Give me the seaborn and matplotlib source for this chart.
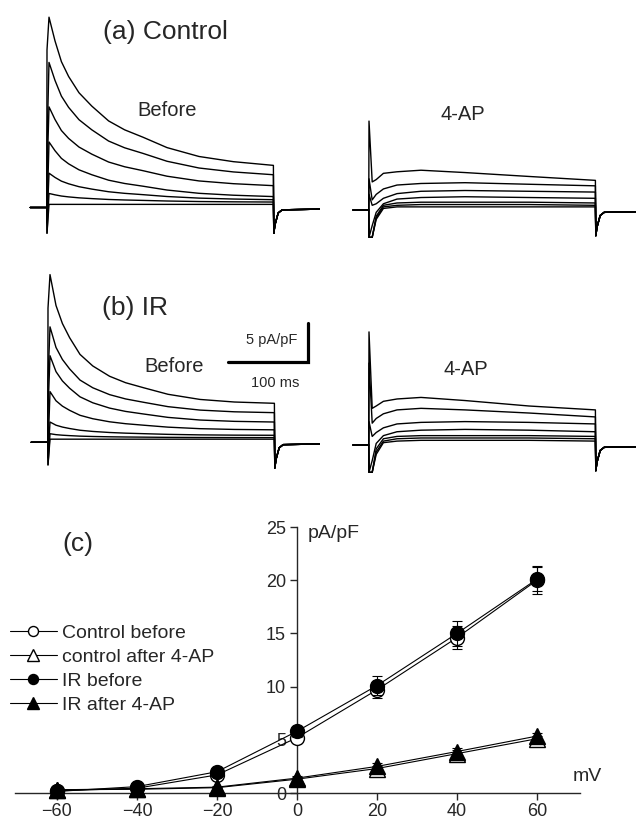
import matplotlib
matplotlib.use('Agg')
import matplotlib.pyplot as plt
import seaborn as sns

# ---------------- (c) current-voltage data, pA/pF ----------------
voltages = [-60, -40, -20, 0, 20, 40, 60]
control_before = [0.2, 0.45, 1.7, 5.2, 9.7, 14.6, 20.0]
control_before_err = [0.1, 0.2, 0.3, 0.5, 0.8, 1.1, 1.3]
control_after = [0.3, 0.35, 0.5, 1.3, 2.3, 3.7, 5.1]
control_after_err = [0.1, 0.1, 0.1, 0.2, 0.2, 0.3, 0.3]
ir_before = [0.15, 0.6, 2.0, 5.8, 10.1, 15.0, 20.1]
ir_before_err = [0.1, 0.2, 0.4, 0.5, 0.9, 1.2, 1.1]
ir_after = [0.3, 0.4, 0.55, 1.4, 2.5, 3.9, 5.35]
ir_after_err = [0.1, 0.1, 0.1, 0.2, 0.3, 0.3, 0.3]

# ---------------- current traces (ms, pA/pF) ----------------
t_hold = [-21, -0.3, 0]
t_decay = [2.5, 10, 18, 27, 40, 56, 77, 97, 120, 150, 190, 233, 283]
decay_control = [1, 0.84, 0.70, 0.60, 0.49, 0.40, 0.30, 0.24, 0.19, 0.12, 0.06, 0.025, 0]
decay_ir = [1, 0.76, 0.62, 0.51, 0.38, 0.29, 0.21, 0.16, 0.12, 0.07, 0.03, 0.01, 0]
t_tail = [283.5, 285, 289, 294, 345]
tail_current = [-3.3, -2.2, -0.7, -0.3, -0.2]

# before 4-AP: spike, peak and end-of-pulse amplitude of each sweep
control_spike = [20.2, 8, 4, -1, -2, -3.3, -3.3]
control_peak = [24.4, 18.6, 12.9, 8.4, 4.4, 1.8, 0.4]
control_late = [5.4, 4.2, 2.8, 1.4, 1.0, 0.7, 0.4]
ir_spike = [17.2, 8, 4, -1, -2, -2.9, -2.9]
ir_peak = [21.5, 14.8, 11.1, 6.5, 2.6, 1.1, 0.4]
ir_late = [5.0, 3.8, 2.6, 1.6, 0.9, 0.6, 0.4]

# after 4-AP: sweeps read at these times
t_4ap = [4, 9, 18, 35, 65, 120, 200, 283]
control_4ap_spike = [11.4, 4, 2, -3.5, -3.5, -3.5, -3.5]
control_4ap = [
    [3.6, 3.9, 4.7, 4.9, 5.1, 4.8, 4.3, 3.8],
    [1.3, 2.0, 2.7, 3.2, 3.4, 3.5, 3.3, 3.1],
    [0.6, 0.8, 1.5, 2.1, 2.4, 2.5, 2.4, 2.3],
    [-2.0, -0.3, 0.8, 1.4, 1.6, 1.7, 1.6, 1.5],
    [-3.5, -0.8, 0.6, 0.9, 1.0, 1.0, 1.0, 0.9],
    [-3.5, -1.0, 0.4, 0.6, 0.7, 0.7, 0.7, 0.6],
    [-3.5, -1.2, 0.2, 0.4, 0.4, 0.4, 0.4, 0.4],
]
ir_4ap_spike = [14.5, 10.5, 3, -3.5, -3.5, -3.5, -3.5]
ir_4ap = [
    [4.7, 5.0, 5.6, 5.9, 6.1, 5.7, 5.0, 4.5],
    [2.8, 3.4, 4.0, 4.5, 4.7, 4.5, 4.1, 3.6],
    [1.1, 1.6, 2.2, 2.7, 2.9, 3.0, 2.9, 2.7],
    [-2.0, 0.2, 1.2, 1.7, 1.9, 2.0, 1.9, 1.7],
    [-3.5, -0.5, 0.8, 1.1, 1.2, 1.2, 1.2, 1.1],
    [-3.5, -0.9, 0.5, 0.8, 0.9, 0.9, 0.9, 0.8],
    [-3.5, -1.2, 0.3, 0.5, 0.6, 0.6, 0.6, 0.5],
]

scale_ms = 100
scale_pa = 5

sns.set_style('white')
plt.rcParams['font.family'] = ['Liberation Sans', 'DejaVu Sans']

W, H = 636, 821
fig = plt.figure(figsize=(W / 100, H / 100), dpi=100)


def px_axes(x0, y0, x1, y1):
    return fig.add_axes([x0 / W, 1 - y1 / H, (x1 - x0) / W, (y1 - y0) / H])


def trace_axes(x0, y0, x1, y1, t0_px, base_px):
    ax = px_axes(x0, y0, x1, y1)
    ax.set_xlim((x0 - t0_px) / 0.8, (x1 - t0_px) / 0.8)
    ax.set_ylim((base_px - y1) / 7.8, (base_px - y0) / 7.8)
    ax.axis('off')
    return ax


def draw_before(ax, spikes, peaks, lates, decay):
    for s, p, l in zip(spikes, peaks, lates):
        t = t_hold + t_decay + t_tail
        v = [0, 0, s] + [l + (p - l) * d for d in decay] + tail_current
        sns.lineplot(x=t, y=v, ax=ax, color='black', lw=1.0,
                     estimator=None, sort=False)


def draw_4ap(ax, spikes, sweeps):
    for s, sw in zip(spikes, sweeps):
        t = [-20, -0.3, 0] + t_4ap + t_tail
        v = [0, 0, s] + sw + tail_current
        sns.lineplot(x=t, y=v, ax=ax, color='black', lw=1.0,
                     estimator=None, sort=False)


ax_a1 = trace_axes(25, 0, 320, 240, 47, 207.5)
draw_before(ax_a1, control_spike, control_peak, control_late, decay_control)
ax_a2 = trace_axes(340, 0, 636, 240, 369, 210)
draw_4ap(ax_a2, control_4ap_spike, control_4ap)
ax_b1 = trace_axes(25, 240, 320, 480, 48, 442.3)
draw_before(ax_b1, ir_spike, ir_peak, ir_late, decay_ir)
ax_b2 = trace_axes(340, 240, 636, 480, 369, 445)
draw_4ap(ax_b2, ir_4ap_spike, ir_4ap)

# scale bar
bar_t, bar_v = 325, 10.26
ax_b1.plot([bar_t - scale_ms, bar_t, bar_t], [bar_v, bar_v, bar_v + scale_pa],
           color='black', lw=2.3, solid_joinstyle='miter')


def ftext(x, y, s, size):
    fig.text(x / W, 1 - y / H, s, fontsize=size, ha='center', va='center')


ftext(165, 32, '(a) Control', 19)
ftext(167.5, 111, 'Before', 14.5)
ftext(463, 114, '4-AP', 14.5)
ftext(134.5, 308, '(b) IR', 19)
ftext(272, 340, '5 pA/pF', 10.5)
ftext(174, 366, 'Before', 14.5)
ftext(275.5, 383, '100 ms', 10.5)
ftext(466, 369, '4-AP', 14.5)
ftext(77.5, 544, '(c)', 19)
ftext(334, 533, 'pA/pF', 14)
ftext(587, 776, 'mV', 14)

# ---------------- (c) I-V plot ----------------
ax = px_axes(15, 527, 580, 793)
series = [
    (control_before, control_before_err, 'o', 'white', 10, 'Control before'),
    (control_after, control_after_err, '^', 'white', 11.5, 'control after 4-AP'),
    (ir_before, ir_before_err, 'o', 'black', 10, 'IR before'),
    (ir_after, ir_after_err, '^', 'black', 11.5, 'IR after 4-AP'),
]
handles = []
for i, (vals, errs, mk, fc, ms, lab) in enumerate(series):
    ax.errorbar(voltages, vals, yerr=errs, fmt='none', ecolor='black',
                elinewidth=0.8, capsize=3.5, capthick=0.8, zorder=2 + i,
                clip_on=False)
    sns.lineplot(x=voltages, y=vals, ax=ax, color='black', lw=0.8,
                 marker=mk, markersize=ms, markerfacecolor=fc,
                 markeredgecolor='black', markeredgewidth=1.0,
                 label=lab, legend=False, clip_on=False, zorder=3 + i)
    handles.append(ax.get_lines()[-1])

ax.set_xlim(-70.5, 70.75)
ax.set_ylim(0, 25)
ax.spines['left'].set_position(('data', 0))
ax.spines['top'].set_visible(False)
ax.spines['right'].set_visible(False)
for sp in ('left', 'bottom'):
    ax.spines[sp].set_linewidth(1.0)
ax.set_xticks(voltages)
ax.set_yticks([0, 5, 10, 15, 20, 25])
ax.tick_params(axis='y', direction='out', length=5, width=1, pad=3, labelsize=13, left=True)
ax.tick_params(axis='x', direction='out', length=5, width=1, pad=2, labelsize=13, bottom=True)
ax.set_xlabel('')
ax.set_ylabel('')
ax.patch.set_alpha(0)

fig.legend(handles, [h.get_label() for h in handles], loc='upper left',
           bbox_to_anchor=(10 / W, 1 - 624 / H), frameon=False, fontsize=14,
           handlelength=2.4, handletextpad=0.25, labelspacing=0.34,
           borderpad=0, borderaxespad=0, markerscale=0.72)

fig.savefig('out.png', dpi=100)
